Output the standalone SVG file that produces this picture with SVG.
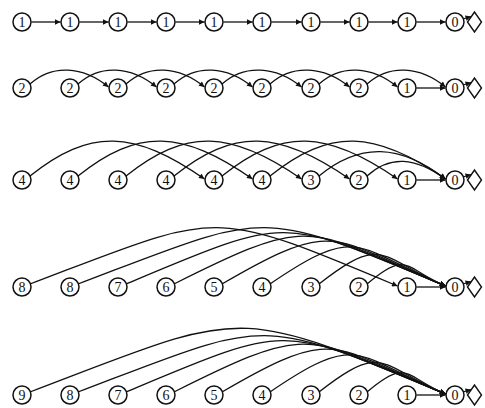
<svg xmlns="http://www.w3.org/2000/svg" width="485" height="408" viewBox="0 0 485 408">
<style>
.e{fill:none;stroke:#111;stroke-width:1.3;marker-end:url(#ah)}
.d{fill:none;stroke:#111;stroke-width:1.4}
circle{fill:#fff;stroke:#111;stroke-width:1.5}
text{font-family:"Liberation Serif","DejaVu Serif",serif;font-size:14px;fill:#111;text-anchor:middle;dominant-baseline:central}
</style>
<defs>
<marker id="ah" viewBox="0 0 10 10" refX="10" refY="5" markerWidth="7" markerHeight="5.5" orient="auto" markerUnits="userSpaceOnUse"><path d="M0,0 L10,5 L0,10 z" fill="#111"/></marker>
</defs>
<rect width="485" height="408" fill="#fff"/>
<g id="d1"><polygon class="d" points="467.5,22 474.5,12 481.5,22 474.5,32"/></g>
<g id="d2"><polygon class="d" points="467.5,88 474.5,78 481.5,88 474.5,98"/></g>
<g id="d3"><polygon class="d" points="467.5,180 474.5,170 481.5,180 474.5,190"/></g>
<g id="d4"><polygon class="d" points="467.5,287 474.5,277 481.5,287 474.5,297"/></g>
<g id="d5"><polygon class="d" points="467.5,395 474.5,385 481.5,395 474.5,405"/></g>
<g id="connectors">
<!-- row 1 -->
<path class="e" d="M31.5,22 L60.5,22"/>
<path class="e" d="M79.5,22 L108.5,22"/>
<path class="e" d="M127.5,22 L156.5,22"/>
<path class="e" d="M175.5,22 L204.5,22"/>
<path class="e" d="M223.5,22 L252.5,22"/>
<path class="e" d="M271.5,22 L301.5,22"/>
<path class="e" d="M320.5,22 L349.5,22"/>
<path class="e" d="M368.5,22 L397.5,22"/>
<path class="e" d="M416.5,22 L445.5,22"/>
<!-- row 2 -->
<path class="e" d="M30,84 C52,64 83,66 108.5,87"/>
<path class="e" d="M78,84 C100,64 131,66 156.5,87"/>
<path class="e" d="M126,84 C148,64 179,66 204.5,87"/>
<path class="e" d="M174,84 C196,64 227,66 252.5,87"/>
<path class="e" d="M222,84 C244,64 276,66 301.5,87"/>
<path class="e" d="M270,84 C292,64 324,66 349.5,87"/>
<path class="e" d="M319,84 C341,64 372,66 397.5,87"/>
<path class="e" d="M367,84 C389,64 420,66 445.5,87"/>
<path class="e" d="M416.5,88 L445.5,88"/>
<!-- row 3 -->
<path class="e" d="M30,176 C90,128 134,130 204.5,179"/>
<path class="e" d="M78,176 C138,128 182,130 252.5,179"/>
<path class="e" d="M126,176 C186,128 231,130 301.5,179"/>
<path class="e" d="M174,176 C234,128 279,130 349.5,179"/>
<path class="e" d="M222,176 C282,128 327,130 397.5,179"/>
<path class="e" d="M270,176 C330,128 375,130 445.5,179"/>
<path class="e" d="M319,176 C360,142 400,144 445.5,179"/>
<path class="e" d="M367,176 C390,155 415,157 445.5,179"/>
<path class="e" d="M416.5,180 L445.5,180"/>
<!-- row 4 -->
<path class="e" d="M30,284 C221,211.4 206.5,205.8 397.5,286"/>
<path class="e" d="M78,284 C269,211.4 254.5,205.8 445.5,286"/>
<path class="e" d="M126,284 C292,214.3 279.5,216.3 445.5,286"/>
<path class="e" d="M174,284 C315,213.5 304.5,226.8 445.5,286"/>
<path class="e" d="M222,284 C338,216.7 329.5,237.3 445.5,286"/>
<path class="e" d="M270,284 C361,222.1 354.5,247.8 445.5,286"/>
<path class="e" d="M319,284 C385,232.5 379.5,258.3 445.5,286"/>
<path class="e" d="M367,284 C408,249.1 404.5,268.8 445.5,286"/>
<path class="e" d="M416.5,287 L445.5,287"/>
<!-- row 5 -->
<path class="e" d="M30,392 C246,310 229.5,303.3 445.5,394"/>
<path class="e" d="M78,392 C269,319.4 254.5,313.8 445.5,394"/>
<path class="e" d="M126,392 C292,322.3 279.5,324.3 445.5,394"/>
<path class="e" d="M174,392 C315,321.5 304.5,334.8 445.5,394"/>
<path class="e" d="M222,392 C338,324.7 329.5,345.3 445.5,394"/>
<path class="e" d="M270,392 C361,330.1 354.5,355.8 445.5,394"/>
<path class="e" d="M319,392 C385,340.5 379.5,366.3 445.5,394"/>
<path class="e" d="M367,392 C408,357.1 404.5,376.8 445.5,394"/>
<path class="e" d="M416.5,395 L445.5,395"/>
<!-- 0 to diamond -->
<path class="e" d="M463,19 L471,16.5"/>
<path class="e" d="M463,85 L471,82.5"/>
<path class="e" d="M463,177 L471,174.5"/>
<path class="e" d="M463,284 L471,281.5"/>
<path class="e" d="M463,392 L471,389.5"/>
</g>
<g id="row1">
<g id="r1n0"><circle cx="22" cy="22" r="9"/><text x="22" y="22">1</text></g>
<g id="r1n1"><circle cx="70" cy="22" r="9"/><text x="70" y="22">1</text></g>
<g id="r1n2"><circle cx="118" cy="22" r="9"/><text x="118" y="22">1</text></g>
<g id="r1n3"><circle cx="166" cy="22" r="9"/><text x="166" y="22">1</text></g>
<g id="r1n4"><circle cx="214" cy="22" r="9"/><text x="214" y="22">1</text></g>
<g id="r1n5"><circle cx="262" cy="22" r="9"/><text x="262" y="22">1</text></g>
<g id="r1n6"><circle cx="311" cy="22" r="9"/><text x="311" y="22">1</text></g>
<g id="r1n7"><circle cx="359" cy="22" r="9"/><text x="359" y="22">1</text></g>
<g id="r1n8"><circle cx="407" cy="22" r="9"/><text x="407" y="22">1</text></g>
<g id="r1n9"><circle cx="455" cy="22" r="9"/><text x="455" y="22">0</text></g>
</g>
<g id="row2">
<g id="r2n0"><circle cx="22" cy="88" r="9"/><text x="22" y="88">2</text></g>
<g id="r2n1"><circle cx="70" cy="88" r="9"/><text x="70" y="88">2</text></g>
<g id="r2n2"><circle cx="118" cy="88" r="9"/><text x="118" y="88">2</text></g>
<g id="r2n3"><circle cx="166" cy="88" r="9"/><text x="166" y="88">2</text></g>
<g id="r2n4"><circle cx="214" cy="88" r="9"/><text x="214" y="88">2</text></g>
<g id="r2n5"><circle cx="262" cy="88" r="9"/><text x="262" y="88">2</text></g>
<g id="r2n6"><circle cx="311" cy="88" r="9"/><text x="311" y="88">2</text></g>
<g id="r2n7"><circle cx="359" cy="88" r="9"/><text x="359" y="88">2</text></g>
<g id="r2n8"><circle cx="407" cy="88" r="9"/><text x="407" y="88">1</text></g>
<g id="r2n9"><circle cx="455" cy="88" r="9"/><text x="455" y="88">0</text></g>
</g>
<g id="row3">
<g id="r3n0"><circle cx="22" cy="180" r="9"/><text x="22" y="180">4</text></g>
<g id="r3n1"><circle cx="70" cy="180" r="9"/><text x="70" y="180">4</text></g>
<g id="r3n2"><circle cx="118" cy="180" r="9"/><text x="118" y="180">4</text></g>
<g id="r3n3"><circle cx="166" cy="180" r="9"/><text x="166" y="180">4</text></g>
<g id="r3n4"><circle cx="214" cy="180" r="9"/><text x="214" y="180">4</text></g>
<g id="r3n5"><circle cx="262" cy="180" r="9"/><text x="262" y="180">4</text></g>
<g id="r3n6"><circle cx="311" cy="180" r="9"/><text x="311" y="180">3</text></g>
<g id="r3n7"><circle cx="359" cy="180" r="9"/><text x="359" y="180">2</text></g>
<g id="r3n8"><circle cx="407" cy="180" r="9"/><text x="407" y="180">1</text></g>
<g id="r3n9"><circle cx="455" cy="180" r="9"/><text x="455" y="180">0</text></g>
</g>
<g id="row4">
<g id="r4n0"><circle cx="22" cy="287" r="9"/><text x="22" y="287">8</text></g>
<g id="r4n1"><circle cx="70" cy="287" r="9"/><text x="70" y="287">8</text></g>
<g id="r4n2"><circle cx="118" cy="287" r="9"/><text x="118" y="287">7</text></g>
<g id="r4n3"><circle cx="166" cy="287" r="9"/><text x="166" y="287">6</text></g>
<g id="r4n4"><circle cx="214" cy="287" r="9"/><text x="214" y="287">5</text></g>
<g id="r4n5"><circle cx="262" cy="287" r="9"/><text x="262" y="287">4</text></g>
<g id="r4n6"><circle cx="311" cy="287" r="9"/><text x="311" y="287">3</text></g>
<g id="r4n7"><circle cx="359" cy="287" r="9"/><text x="359" y="287">2</text></g>
<g id="r4n8"><circle cx="407" cy="287" r="9"/><text x="407" y="287">1</text></g>
<g id="r4n9"><circle cx="455" cy="287" r="9"/><text x="455" y="287">0</text></g>
</g>
<g id="row5">
<g id="r5n0"><circle cx="22" cy="395" r="9"/><text x="22" y="395">9</text></g>
<g id="r5n1"><circle cx="70" cy="395" r="9"/><text x="70" y="395">8</text></g>
<g id="r5n2"><circle cx="118" cy="395" r="9"/><text x="118" y="395">7</text></g>
<g id="r5n3"><circle cx="166" cy="395" r="9"/><text x="166" y="395">6</text></g>
<g id="r5n4"><circle cx="214" cy="395" r="9"/><text x="214" y="395">5</text></g>
<g id="r5n5"><circle cx="262" cy="395" r="9"/><text x="262" y="395">4</text></g>
<g id="r5n6"><circle cx="311" cy="395" r="9"/><text x="311" y="395">3</text></g>
<g id="r5n7"><circle cx="359" cy="395" r="9"/><text x="359" y="395">2</text></g>
<g id="r5n8"><circle cx="407" cy="395" r="9"/><text x="407" y="395">1</text></g>
<g id="r5n9"><circle cx="455" cy="395" r="9"/><text x="455" y="395">0</text></g>
</g>
</svg>
